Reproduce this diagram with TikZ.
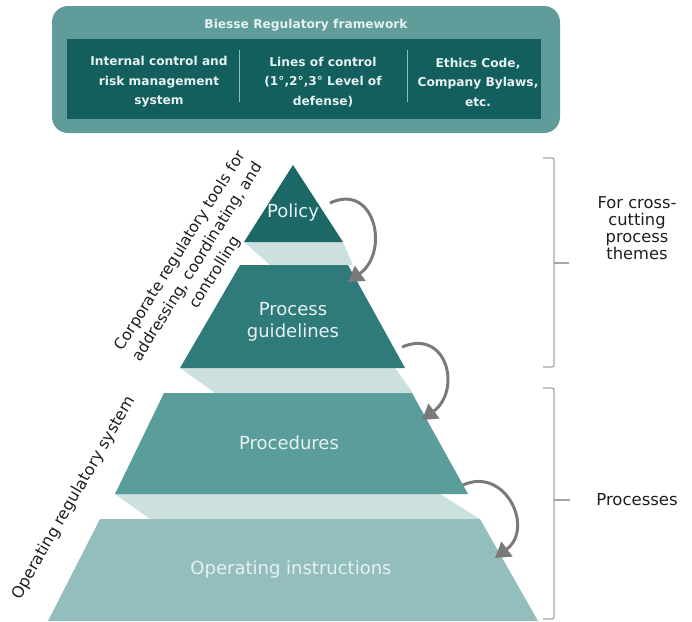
\documentclass[tikz,border=0pt]{standalone}
\usepackage{fontspec}
\setmainfont{DejaVu Sans}
\usetikzlibrary{arrows.meta}

\definecolor{frameouter}{HTML}{5F9C9A}
\definecolor{frameinner}{HTML}{135F5E}
\definecolor{tierone}{HTML}{1C6866}
\definecolor{tiertwo}{HTML}{2F7B79}
\definecolor{tierthree}{HTML}{5A9D9B}
\definecolor{tierfour}{HTML}{93BEBD}
\definecolor{bandcol}{HTML}{CCE0E0}
\definecolor{arrowgray}{HTML}{7A7A7A}
\definecolor{bracegray}{HTML}{A6A6A6}
\definecolor{labeltext}{HTML}{1E1E1E}
\definecolor{paletext}{HTML}{E6F1F1}

\begin{document}
\begin{tikzpicture}[x=1pt,y=-1pt,
  boxtext/.style={text=paletext, font=\bfseries\fontsize{12.2}{19.5}\selectfont, align=center, inner sep=0pt},
  tiertext/.style={text=paletext, font=\fontsize{18}{22}\selectfont, align=center, inner sep=0pt},
  sidetext/.style={text=labeltext, font=\fontsize{15.5}{20}\selectfont, align=center, inner sep=0pt},
  flow/.style={draw=arrowgray, line width=3pt, -{Triangle[length=15pt,width=18pt]}},
  brace/.style={draw=bracegray, line width=1.3pt, rounded corners=2pt},
]
\useasboundingbox (0,0) rectangle (692,621);

% --- regulatory framework panel ---
\node[fill=frameouter, rounded corners=16pt, minimum width=508pt, minimum height=127pt, inner sep=0pt] (framework) at (306,69.5) {};
\node[fill=frameinner, minimum width=474pt, minimum height=80pt, inner sep=0pt] (controls) at (304,79) {};
\node[boxtext] (title) at (306,25) {Biesse Regulatory framework};
\node[boxtext] (icrm) at (159,82) {Internal control and\\risk management\\system};
\node[boxtext] (lines) at (323,82) {Lines of control\\(1°,2°,3° Level of\\defense)};
\node[boxtext] (ethics) at (478,82) {Ethics Code,\\Company Bylaws,\\etc.};
\draw[paletext!60!frameinner, line width=1pt] (239,50) -- (239,102);
\draw[paletext!60!frameinner, line width=1pt] (407,50) -- (407,102);

% --- light bands between the tiers ---
\fill[bandcol] (244,242) -- (343,242) -- (353,265) -- (270,265) -- cycle;
\fill[bandcol] (180,368) -- (395,368) -- (413,393) -- (215,393) -- cycle;
\fill[bandcol] (115,494) -- (440,494) -- (480,519) -- (150,519) -- cycle;

% --- pyramid tiers ---
\fill[tierone] (293,165) -- (343,242) -- (244,242) -- cycle;
\fill[tiertwo] (240,265) -- (348,265) -- (405,368) -- (180,368) -- cycle;
\fill[tierthree] (164,393) -- (412,393) -- (468,494) -- (115,494) -- cycle;
\fill[tierfour] (100,519) -- (480,519) -- (538,621) -- (48,621) -- cycle;

\node[tiertext] (policy) at (293,213) {Policy};
\node[tiertext] (guidelines) at (293,322) {Process\\guidelines};
\node[tiertext] (procedures) at (289,443) {Procedures};
\node[tiertext] (instructions) at (291,570) {Operating instructions};

% --- cascading arrows ---
\coordinate (s1) at (330,203); \coordinate (t1) at (348,282);
\coordinate (s2) at (402,347); \coordinate (t2) at (422,420);
\coordinate (s3) at (463,485); \coordinate (t3) at (495,558);
\draw[flow] (s1) .. controls (375,182) and (390,252) .. (t1);
\draw[flow] (s2) .. controls (447,328) and (462,390) .. (t2);
\draw[flow] (s3) .. controls (505,466) and (535,528) .. (t3);

% --- side labels ---
\node[sidetext, rotate=58, font=\fontsize{15.5}{20.5}\selectfont] (corporate) at (198,262) {Corporate regulatory tools for\\addressing, coordinating, and\\controlling};
\node[sidetext, rotate=60, font=\fontsize{16}{20}\selectfont] (operating) at (74,498) {Operating regulatory system};

% --- brackets ---
\coordinate (b1top) at (543,158); \coordinate (b1bot) at (543,367);
\coordinate (b1mid) at (554,263); \coordinate (b1tip) at (569,263);
\draw[brace] (b1top) -- (554,158) -- (554,367) -- (b1bot);
\draw[brace] (b1mid) -- (b1tip);
\coordinate (b2top) at (543,388); \coordinate (b2bot) at (543,619);
\coordinate (b2mid) at (554,500); \coordinate (b2tip) at (570,500);
\draw[brace] (b2top) -- (554,388) -- (554,619) -- (b2bot);
\draw[brace] (b2mid) -- (b2tip);

\node[sidetext, font=\fontsize{16.3}{17}\selectfont] (crossing) at (637,228) {For cross-\\cutting\\process\\themes};
\node[sidetext, font=\fontsize{16.5}{20}\selectfont] (processes) at (637,500) {Processes};
\end{tikzpicture}
\end{document}
